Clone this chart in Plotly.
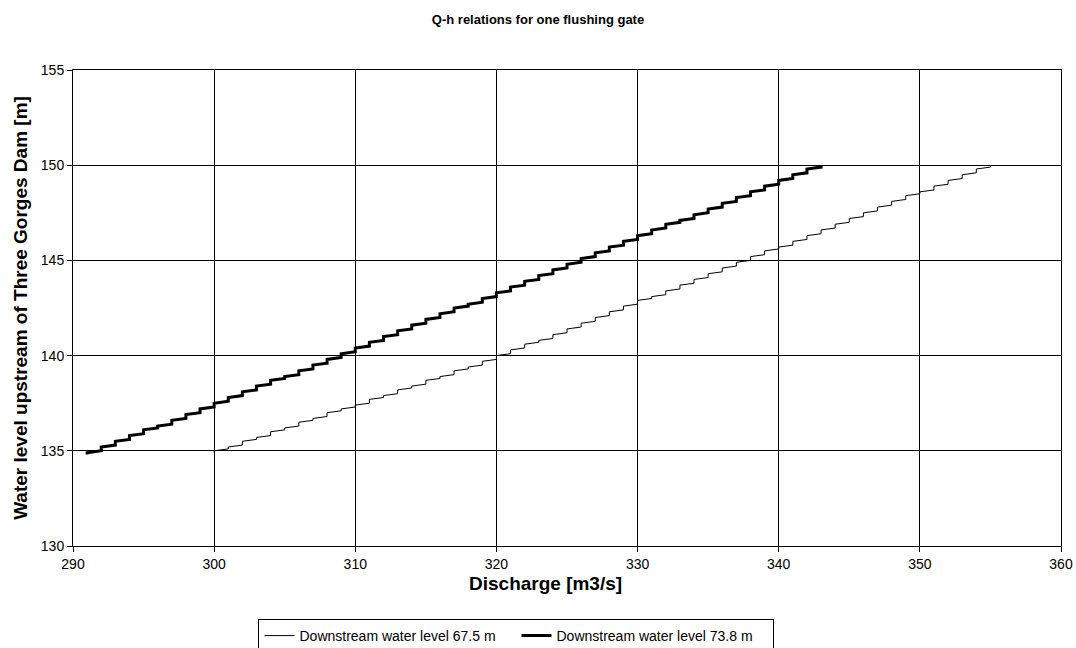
import plotly.graph_objects as go

# Discharge steps (m3/s) and the water level range (m) held at each step
q_675 = [300, 301, 302, 303, 304, 305, 306, 307, 308, 309, 310, 311, 312, 313, 314,
         315, 316, 317, 318, 319, 320, 321, 322, 323, 324, 325, 326, 327, 328, 329,
         330, 331, 332, 333, 334, 335, 336, 337, 338, 339, 340, 341, 342, 343, 344,
         345, 346, 347, 348, 349, 350, 351, 352, 353, 354, 355]
h_lo_675 = [134.9, 135.1, 135.3, 135.6, 135.8, 136.1, 136.3, 136.6, 136.8, 137.1, 137.3,
            137.5, 137.8, 138.0, 138.3, 138.5, 138.8, 139.0, 139.3, 139.5, 139.8, 140.1,
            140.4, 140.7, 140.9, 141.2, 141.5, 141.8, 142.1, 142.4, 142.7, 143.0, 143.2,
            143.5, 143.8, 144.1, 144.4, 144.7, 145.0, 145.3, 145.6, 145.8, 146.1, 146.4,
            146.7, 147.0, 147.3, 147.6, 147.9, 148.2, 148.5, 148.7, 149.0, 149.3, 149.6,
            149.9]
h_hi_675 = [135.0, 135.2, 135.5, 135.7, 136.0, 136.2, 136.5, 136.7, 137.0, 137.2, 137.4,
            137.7, 137.9, 138.2, 138.4, 138.7, 138.9, 139.2, 139.4, 139.7, 140.0, 140.3,
            140.6, 140.8, 141.1, 141.4, 141.7, 142.0, 142.3, 142.6, 142.9, 143.1, 143.4,
            143.7, 144.0, 144.3, 144.6, 144.9, 145.2, 145.5, 145.7, 146.0, 146.3, 146.6,
            146.9, 147.2, 147.5, 147.8, 148.1, 148.4, 148.6, 148.9, 149.2, 149.5, 149.8,
            150.0]

q_738 = [291, 292, 293, 294, 295, 296, 297, 298, 299, 300, 301, 302, 303, 304, 305,
         306, 307, 308, 309, 310, 311, 312, 313, 314, 315, 316, 317, 318, 319, 320,
         321, 322, 323, 324, 325, 326, 327, 328, 329, 330, 331, 332, 333, 334, 335,
         336, 337, 338, 339, 340, 341, 342, 343]
h_lo_738 = [134.8, 135.0, 135.3, 135.6, 135.9, 136.2, 136.4, 136.7, 137.0, 137.3, 137.6,
            137.9, 138.2, 138.5, 138.8, 139.0, 139.3, 139.6, 139.9, 140.2, 140.5, 140.8,
            141.1, 141.4, 141.7, 142.0, 142.3, 142.6, 142.8, 143.1, 143.4, 143.7, 144.0,
            144.3, 144.6, 144.9, 145.2, 145.5, 145.8, 146.1, 146.4, 146.7, 147.0, 147.2,
            147.5, 147.8, 148.1, 148.4, 148.7, 149.0, 149.3, 149.6, 149.9]
h_hi_738 = [134.9, 135.2, 135.5, 135.8, 136.1, 136.3, 136.6, 136.9, 137.2, 137.5, 137.8,
            138.1, 138.4, 138.7, 138.9, 139.2, 139.5, 139.8, 140.1, 140.4, 140.7, 141.0,
            141.3, 141.6, 141.9, 142.2, 142.5, 142.7, 143.0, 143.3, 143.6, 143.9, 144.2,
            144.5, 144.8, 145.1, 145.4, 145.7, 146.0, 146.3, 146.6, 146.9, 147.1, 147.4,
            147.7, 148.0, 148.3, 148.6, 148.9, 149.2, 149.5, 149.8, 150.0]

series_names = ["Downstream water level 67.5 m", "Downstream water level 73.8 m"]
x_ticks = [290, 300, 310, 320, 330, 340, 350, 360]
y_ticks = [130, 135, 140, 145, 150, 155]


def staircase(q, lo, hi):
    xs, ys = [], []
    for qi, a, b in zip(q, lo, hi):
        xs += [qi, qi]
        ys += [a, b]
    return xs, ys


FONT = "Liberation Sans, Arial, sans-serif"

fig = go.Figure()
x1, y1 = staircase(q_675, h_lo_675, h_hi_675)
x2, y2 = staircase(q_738, h_lo_738, h_hi_738)
fig.add_trace(go.Scatter(x=x1, y=y1, mode="lines", name=series_names[0],
                         line=dict(color="black", width=1)))
fig.add_trace(go.Scatter(x=x2, y=y2, mode="lines", name=series_names[1],
                         line=dict(color="black", width=3)))

fig.update_layout(
    width=1076, height=648,
    margin=dict(l=73, r=15, t=70, b=102, autoexpand=False),
    paper_bgcolor="white", plot_bgcolor="white",
    font=dict(family=FONT, size=14, color="black"),
    title=dict(text="<b>Q-h relations for one flushing gate</b>",
               x=0.5, xanchor="center", y=0.97, yanchor="middle",
               font=dict(family=FONT, size=13, color="black")),
    showlegend=True,
    legend=dict(orientation="h", xref="container", yref="container",
                x=0.48, xanchor="center", y=(648 - 619) / 648, yanchor="top",
                bordercolor="black", borderwidth=1, bgcolor="white",
                font=dict(family=FONT, size=14, color="black"),
                entrywidth=212, entrywidthmode="pixels", tracegroupgap=0),
    annotations=[dict(text="<b>Discharge [m3/s]</b>", xref="paper", yref="paper",
                      x=(545 - 73) / 988, y=(546 - 583) / 476,
                      xanchor="center", yanchor="middle", showarrow=False,
                      font=dict(family=FONT, size=19, color="black"))],
)
fig.update_xaxes(range=[290, 360], tickvals=x_ticks, ticktext=[str(v) for v in x_ticks],
                 showgrid=True, gridcolor="black", gridwidth=1,
                 showline=True, linecolor="black", linewidth=1, mirror=True,
                 ticks="outside", ticklen=5, tickcolor="black", zeroline=False,
                 automargin=False,
                 tickfont=dict(family=FONT, size=14, color="black"))
fig.update_yaxes(range=[130, 155], tickvals=y_ticks, ticktext=[str(v) for v in y_ticks],
                 showgrid=True, gridcolor="black", gridwidth=1,
                 showline=True, linecolor="black", linewidth=1, mirror=True,
                 ticks="outside", ticklen=5, tickcolor="black", zeroline=False,
                 automargin=False,
                 tickfont=dict(family=FONT, size=14, color="black"),
                 title=dict(text="<b>Water level upstream of Three Gorges Dam [m]</b>",
                            font=dict(family=FONT, size=19, color="black"), standoff=8))

fig.write_html("out.html")
